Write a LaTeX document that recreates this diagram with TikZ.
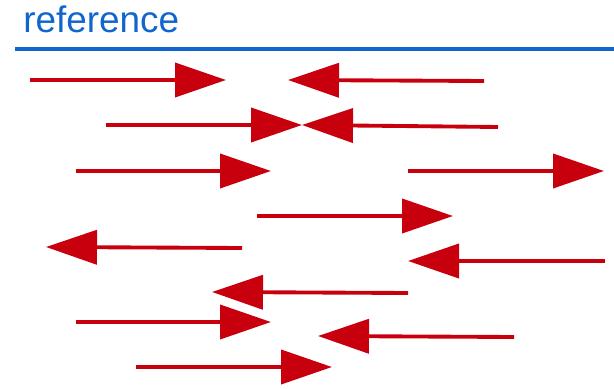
\documentclass[tikz,border=0pt]{standalone}
\usepackage{fontspec}
\setmainfont{Liberation Sans}
\usetikzlibrary{arrows.meta}

\definecolor{titleblue}{RGB}{16,102,204}
\definecolor{arrowred}{RGB}{200,0,14}

\tikzset{
  redarrow/.style={draw=arrowred, line width=2.2pt,
    -{Triangle[length=1.02cm, width=0.68cm, fill=arrowred]}},
}

\begin{document}
\begin{tikzpicture}[x=0.02cm, y=-0.02cm]
\useasboundingbox (0,0) rectangle (614,388);

% Heading and rule
\node[anchor=base west, inner sep=0pt, text=titleblue, font=\fontsize{21}{25}\selectfont] (title) at (23,33) {reference};
\draw[titleblue, line width=2.4pt] (15,49) -- (614,49);

% Arrows: tail -- tip
\foreach \tx/\ty/\hx/\hy in {
    30/80/226/80, 484/81/288/80,
    106/125/302/125, 498/127/302/125,
    76/171/271/171, 408/171/604/171,
    257/216/453/216,
    242/248/46/247, 605/261/408/261,
    408/293/212/292,
    76/322/271/322, 514/337/318/336,
    136/367/332/367}
  \draw[redarrow] (\tx,\ty) -- (\hx,\hy);

\end{tikzpicture}
\end{document}
